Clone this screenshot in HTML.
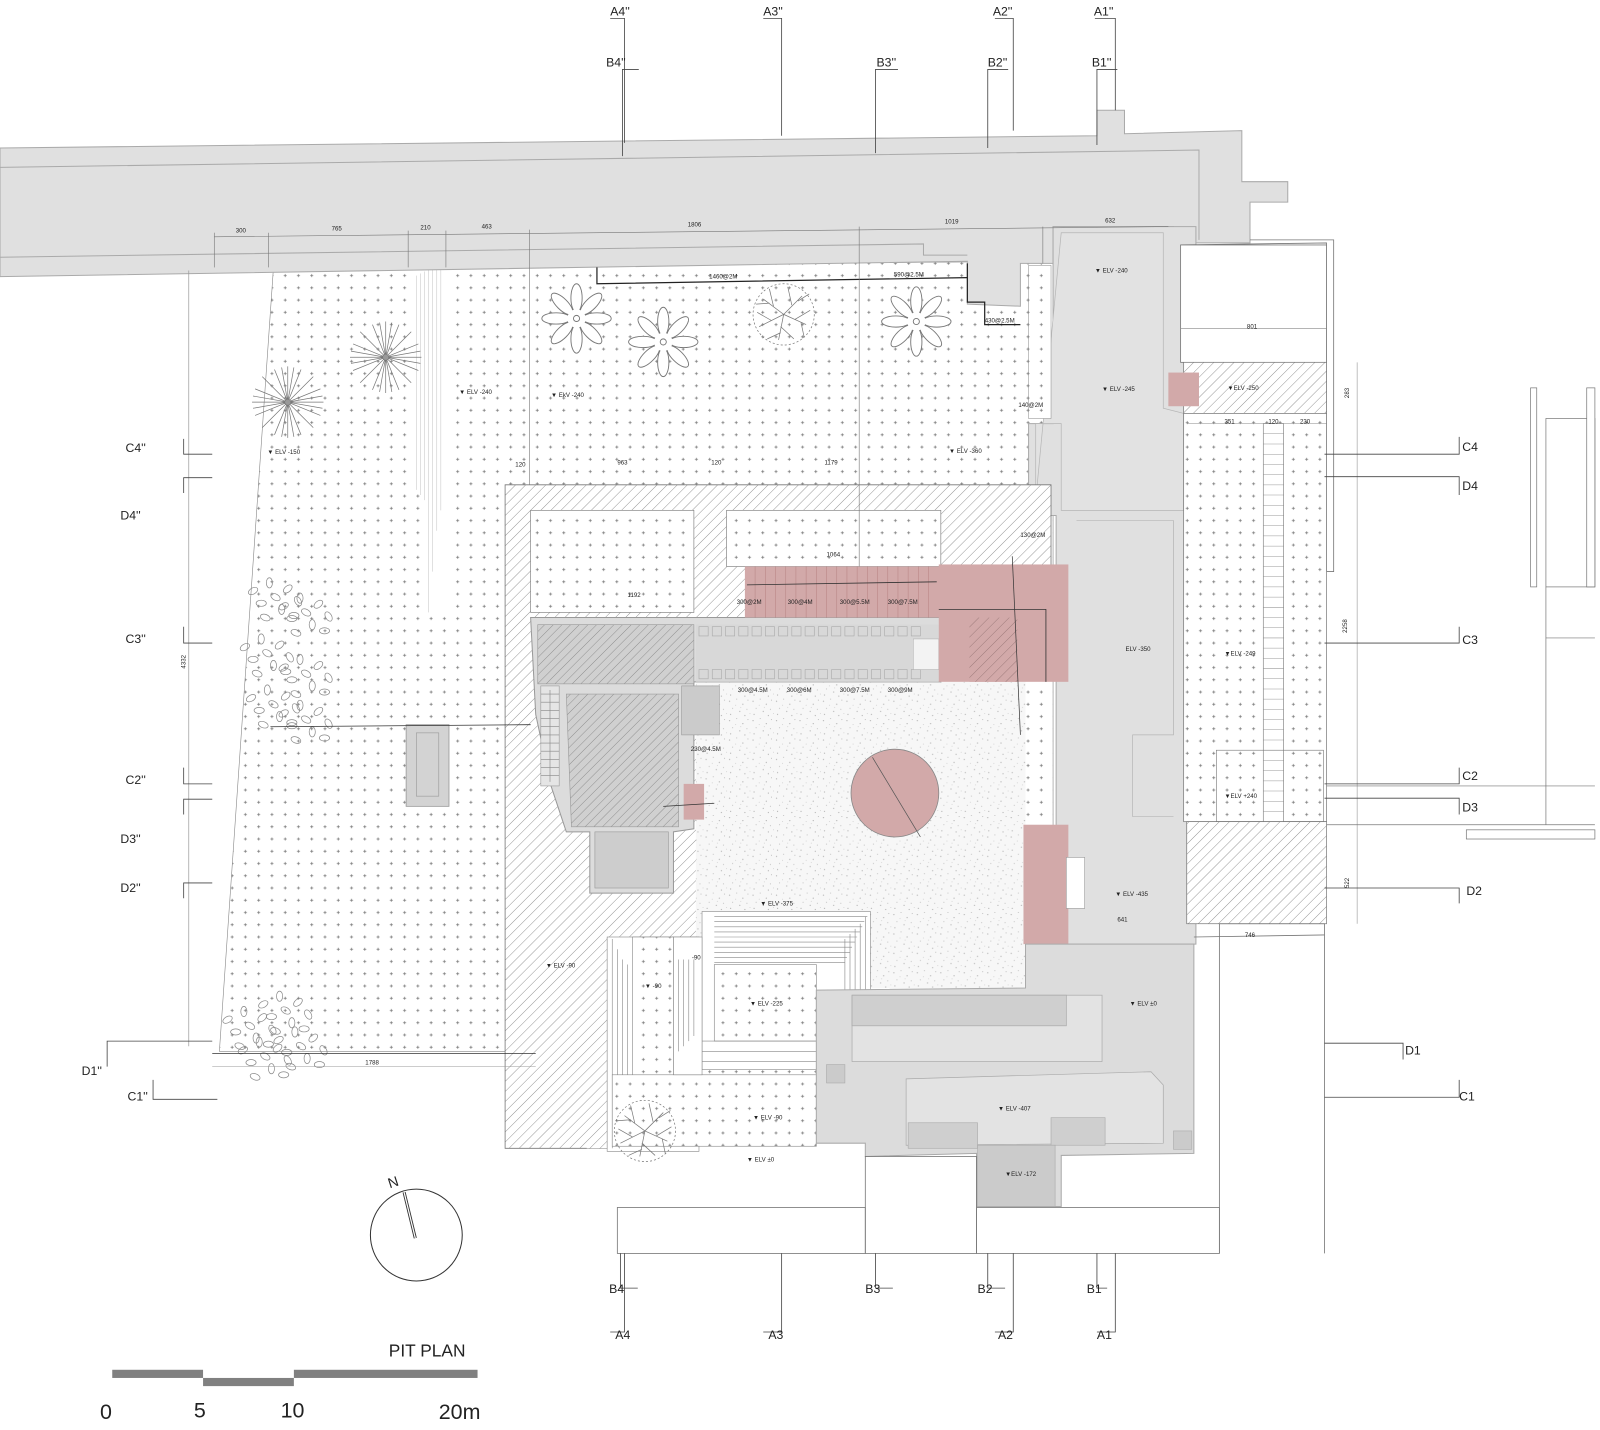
<!DOCTYPE html>
<html><head><meta charset="utf-8"><style>
html,body{margin:0;padding:0;background:#fff;}
svg{display:block;}
text{font-family:"Liberation Sans",sans-serif;fill:#222;}
.s{font-size:6px;}
.ax{font-size:12px;}
</style></head><body>
<svg width="1600" height="1430" viewBox="0 0 1568 1401" preserveAspectRatio="none" xmlns="http://www.w3.org/2000/svg">
<defs>
<pattern id="dot" width="13" height="12" patternUnits="userSpaceOnUse">
<rect width="13" height="12" fill="#fff"/>
<path d="M5 6h3M6.5 4.5v3" stroke="#7a7a7a" stroke-width="0.8"/>
</pattern>
<pattern id="hat" width="7" height="7" patternUnits="userSpaceOnUse" patternTransform="rotate(45)">
<rect width="7" height="7" fill="#fff"/>
<line x1="0" y1="0" x2="0" y2="7" stroke="#6d6d6d" stroke-width="0.7"/>
</pattern>
<pattern id="hatg" width="6" height="6" patternUnits="userSpaceOnUse" patternTransform="rotate(45)">
<rect width="6" height="6" fill="#d0d0d0"/>
<line x1="0" y1="0" x2="0" y2="6" stroke="#777" stroke-width="0.7"/>
</pattern>
<pattern id="hatp" width="7" height="7" patternUnits="userSpaceOnUse" patternTransform="rotate(45)">
<rect width="7" height="7" fill="#d2a9a9"/>
<line x1="0" y1="0" x2="0" y2="7" stroke="#8a6a6a" stroke-width="0.7"/>
</pattern>
<pattern id="spk" width="23" height="19" patternUnits="userSpaceOnUse">
<rect width="23" height="19" fill="#f7f7f7"/>
<g fill="#b5b5b5"><circle cx="2" cy="3" r=".6"/><circle cx="9" cy="1" r=".5"/><circle cx="15" cy="6" r=".6"/><circle cx="20" cy="2" r=".5"/><circle cx="5" cy="10" r=".5"/><circle cx="12" cy="13" r=".6"/><circle cx="19" cy="11" r=".5"/><circle cx="3" cy="16" r=".6"/><circle cx="8" cy="7" r=".4"/><circle cx="17" cy="17" r=".6"/><circle cx="22" cy="15" r=".4"/><circle cx="13" cy="9" r=".4"/></g>
</pattern>
<g id="flower" fill="#fff" stroke="#777" stroke-width="0.9">
<ellipse cx="0" cy="-20" rx="5.5" ry="14"/><ellipse cx="0" cy="-20" rx="5.5" ry="14" transform="rotate(45)"/><ellipse cx="0" cy="-20" rx="5.5" ry="14" transform="rotate(90)"/><ellipse cx="0" cy="-20" rx="5.5" ry="14" transform="rotate(135)"/><ellipse cx="0" cy="-20" rx="5.5" ry="14" transform="rotate(180)"/><ellipse cx="0" cy="-20" rx="5.5" ry="14" transform="rotate(225)"/><ellipse cx="0" cy="-20" rx="5.5" ry="14" transform="rotate(270)"/><ellipse cx="0" cy="-20" rx="5.5" ry="14" transform="rotate(315)"/>
<circle r="9" stroke="none"/><circle r="3"/>
</g>
<g id="star" stroke="#777" stroke-width="0.7">
<path d="M-35 0H35M0-35V35M-25-25L25 25M-25 25L25-25M-32-13L32 13M-32 13L32-13M-13-32L13 32M13-32L-13 32M-34-6L34 6M-34 6L34-6M-6-34L6 34M6-34L-6 34"/>
<circle r="3" fill="#999"/>
</g>
<g id="tree" fill="none" stroke="#777" stroke-width="0.7">
<circle r="30" stroke-dasharray="2 2"/>
<path d="M0 0L-20-15M0 0L18-18M0 0L22 10M0 0L-5 25M0 0L-24 12M-10-8L-14-25M8-9L4-27M11 5L26-4M-3 12L10 24M-12 6L-26 -2M-14-11L-27-10M14-13L25-20M17 8L20 22M-3 18L-16 24"/>
</g>
<g id="leaves" fill="none" stroke="#888" stroke-width="0.7">
<ellipse cx="0" cy="0" rx="5" ry="3" transform="rotate(30)"/><ellipse cx="12" cy="-8" rx="5" ry="3" transform="rotate(-40 12 -8)"/><ellipse cx="-14" cy="6" rx="5" ry="3"/><ellipse cx="6" cy="12" rx="3" ry="5"/><ellipse cx="22" cy="4" rx="5" ry="3" transform="rotate(60 22 4)"/><ellipse cx="-6" cy="-14" rx="3" ry="5"/><ellipse cx="-22" cy="-6" rx="5" ry="3" transform="rotate(-30 -22 -6)"/><ellipse cx="18" cy="18" rx="5" ry="3"/><ellipse cx="-10" cy="20" rx="5" ry="3" transform="rotate(20 -10 20)"/>
</g>
</defs>

<!-- dotted landscape -->
<polygon points="268,262 1032,256 1032,970 800,970 800,1120 600,1120 600,1030 215,1030" fill="url(#dot)" stroke="#888" stroke-width="0.6"/>
<!-- white stair strip -->
<polygon points="405,262 440,262 440,600 419,600 419,480 405,480" fill="#fff"/>
<path d="M408 270V480M412 268V485M416 266V490M420 264V600M424 264V560M428 264V520M432 264V500" stroke="#ccc" stroke-width="0.6"/>

<!-- top band -->
<polygon points="0,145 1075,133 1075,108 1102,108 1102,131 1217,128 1217,178 1262,178 1262,198 1225,198 1225,238 1150,238 1150,222 1032,222 1032,258 1000,258 1000,300 948,298 948,256 0,271" fill="#e0e0e0" stroke="#aaa" stroke-width="1"/>
<polyline points="0,164 1175,147 1175,235" fill="none" stroke="#aaa" stroke-width="1"/>
<polyline points="0,252 905,239 905,250 948,250" fill="none" stroke="#aaa" stroke-width="1"/>
<polyline points="585,262 585,278 948,272" fill="none" stroke="#222" stroke-width="1.2"/>
<polyline points="948,258 948,296 965,296 965,318 1000,318" fill="none" stroke="#222" stroke-width="1.2"/>

<!-- column -->
<polygon points="1032,222 1150,222 1172,222 1172,925 1035,925 1035,505 1008,505 1008,415 1032,415" fill="#e0e0e0" stroke="#aaa" stroke-width="1"/>
<polygon points="1040,228 1140,228 1140,400 1160,405 1160,500 1040,500 1040,415 1015,415 1015,490" fill="#e2e2e2" stroke="#b5b5b5" stroke-width="0.7"/>
<polyline points="1055,510 1150,510 1150,720 1110,720 1110,800 1150,800" fill="none" stroke="#b5b5b5" stroke-width="0.7"/>
<rect x="1008" y="260" width="22" height="150" fill="url(#dot)" stroke="#888" stroke-width="0.5"/>

<!-- right area -->
<polyline points="1157,240 1300,238 1300,560 1307,560 1307,235 1225,235" fill="none" stroke="#777" stroke-width="0.8"/>
<rect x="1157" y="240" width="143" height="115" fill="#fff" stroke="#777" stroke-width="0.8"/>
<line x1="1157" y1="322" x2="1300" y2="322" stroke="#888" stroke-width="0.6"/>
<rect x="1160" y="355" width="140" height="50" fill="url(#hat)" stroke="#777" stroke-width="0.7"/>
<rect x="1160" y="405" width="140" height="400" fill="url(#dot)" stroke="#777" stroke-width="0.7"/>
<rect x="1238" y="415" width="20" height="390" fill="#fff" stroke="#777" stroke-width="0.6"/>
<path d="M1238 425h20M1238 435h20M1238 445h20M1238 455h20M1238 465h20M1238 475h20M1238 485h20M1238 495h20M1238 505h20M1238 515h20M1238 525h20M1238 535h20M1238 545h20M1238 555h20M1238 565h20M1238 575h20M1238 585h20M1238 595h20M1238 605h20M1238 615h20M1238 625h20M1238 635h20M1238 645h20M1238 655h20M1238 665h20M1238 675h20M1238 685h20M1238 695h20M1238 705h20M1238 715h20M1238 725h20M1238 735h20M1238 745h20M1238 755h20M1238 765h20M1238 775h20M1238 785h20M1238 795h20" stroke="#999" stroke-width="0.5"/>
<line x1="1163" y1="415" x2="1300" y2="415" stroke="#888" stroke-width="0.5"/>
<rect x="1192" y="735" width="105" height="70" fill="none" stroke="#777" stroke-width="0.6"/>
<rect x="1163" y="805" width="137" height="100" fill="url(#hat)" stroke="#777" stroke-width="0.7"/>
<rect x="1145" y="365" width="30" height="33" fill="#d2a9a9"/>
<line x1="1330" y1="355" x2="1330" y2="905" stroke="#999" stroke-width="0.6"/>
<text class="s" x="1320" y="620" transform="rotate(-90 1320 620)">2258</text>
<text class="s" x="1322" y="390" transform="rotate(-90 1322 390)">283</text>
<text class="s" x="1322" y="870" transform="rotate(-90 1322 870)">522</text>
<text class="s" x="1222" y="322">801</text>
<text class="s" x="1200" y="415">351</text><text class="s" x="1243" y="415">120</text><text class="s" x="1274" y="415">230</text>
<text class="s" x="1203" y="382">▼ELV -250</text>
<text class="s" x="1200" y="642">▼ELV -249</text>
<text class="s" x="1200" y="782">▼ELV +240</text>

<!-- far right -->
<rect x="1500" y="380" width="6" height="195" fill="#fff" stroke="#777" stroke-width="0.7"/>
<rect x="1515" y="410" width="48" height="165" fill="#fff" stroke="#777" stroke-width="0.7"/>
<rect x="1555" y="380" width="8" height="195" fill="#fff" stroke="#777" stroke-width="0.7"/>
<polyline points="1515,575 1515,808" fill="none" stroke="#777" stroke-width="0.7"/>
<line x1="1515" y1="625" x2="1563" y2="625" stroke="#777" stroke-width="0.6"/>
<line x1="1300" y1="808" x2="1563" y2="808" stroke="#777" stroke-width="0.7"/>
<line x1="1300" y1="770" x2="1563" y2="770" stroke="#777" stroke-width="0.6"/>
<rect x="1437" y="813" width="126" height="9" fill="#fff" stroke="#777" stroke-width="0.7"/>

<!-- hatch L -->
<polygon points="495,475 1030,475 1030,605 690,605 690,920 595,920 595,1125 495,1125" fill="url(#hat)" stroke="#777" stroke-width="0.8"/>
<rect x="520" y="500" width="160" height="100" fill="url(#dot)" stroke="#888" stroke-width="0.7"/>
<rect x="712" y="500" width="210" height="55" fill="url(#dot)" stroke="#888" stroke-width="0.7"/>
<rect x="575" y="920" width="20" height="205" fill="url(#hat)"/>

<!-- plaza -->
<rect x="682" y="668" width="323" height="300" fill="url(#spk)"/>
<!-- terraces -->
<rect x="688" y="893" width="165" height="155" fill="#fff" stroke="#888" stroke-width="0.6"/>
<path d="M700 898H850M700 903H847M700 908H845M700 913H843M700 918H840M700 923H838M700 928H835M700 933H833M700 938H830M700 943H828" stroke="#888" stroke-width="0.6" fill="none"/>
<path d="M848 898V1045M843 905V1040M838 910V1035M833 915V1030M828 920V1025" stroke="#888" stroke-width="0.6"/>
<rect x="700" y="945" width="100" height="75" fill="url(#dot)" stroke="#888" stroke-width="0.6"/>
<path d="M680 1020H848M680 1030H848M680 1040H848M660 1005V1040M665 1005V1045M670 1005V1040M675 1005V1035" stroke="#888" stroke-width="0.6"/>
<rect x="595" y="918" width="90" height="210" fill="#fff" stroke="#888" stroke-width="0.6"/>
<path d="M600 920V1125M605 930V1118M610 940V1112M615 945V1108" stroke="#888" stroke-width="0.6"/>
<rect x="620" y="918" width="40" height="135" fill="url(#dot)" stroke="#888" stroke-width="0.6"/>
<rect x="600" y="1053" width="200" height="70" fill="url(#dot)" stroke="#888" stroke-width="0.6"/>
<rect x="660" y="918" width="28" height="135" fill="#fff" stroke="#888" stroke-width="0.6"/>
<path d="M665 940V1030M670 940V1025M675 940V1020M680 940V1015" stroke="#888" stroke-width="0.6"/>

<!-- left building -->
<polygon points="520,605 922,605 922,668 680,668 680,812 660,815 660,875 578,875 578,815 555,815 540,770 525,700" fill="#dcdcdc" stroke="#999" stroke-width="1"/>
<rect x="527" y="612" width="153" height="58" fill="url(#hatg)" stroke="#999" stroke-width="0.6"/>
<polygon points="555,680 665,680 665,810 560,810" fill="url(#hatg)" stroke="#999" stroke-width="0.6"/>
<rect x="530" y="672" width="18" height="98" fill="#e5e5e5" stroke="#999" stroke-width="0.6"/>
<path d="M530 680h18M530 688h18M530 696h18M530 704h18M530 712h18M530 720h18M530 728h18M530 736h18M530 744h18M530 752h18M530 760h18M539 676V766" stroke="#888" stroke-width="0.6"/>
<rect x="583" y="815" width="72" height="55" fill="#cdcdcd" stroke="#999" stroke-width="0.6"/>
<rect x="668" y="672" width="37" height="48" fill="#cbcbcb" stroke="#999" stroke-width="0.6"/>
<rect x="682" y="612" width="238" height="56" fill="#d8d8d8"/>
<g fill="none" stroke="#aaa" stroke-width="0.6">
<path d="M685 614h9v9h-9zM698 614h9v9h-9zM711 614h9v9h-9zM724 614h9v9h-9zM737 614h9v9h-9zM750 614h9v9h-9zM763 614h9v9h-9zM776 614h9v9h-9zM789 614h9v9h-9zM802 614h9v9h-9zM815 614h9v9h-9zM828 614h9v9h-9zM841 614h9v9h-9zM854 614h9v9h-9zM867 614h9v9h-9zM880 614h9v9h-9zM893 614h9v9h-9z"/>
<path d="M685 656h9v9h-9zM698 656h9v9h-9zM711 656h9v9h-9zM724 656h9v9h-9zM737 656h9v9h-9zM750 656h9v9h-9zM763 656h9v9h-9zM776 656h9v9h-9zM789 656h9v9h-9zM802 656h9v9h-9zM815 656h9v9h-9zM828 656h9v9h-9zM841 656h9v9h-9zM854 656h9v9h-9zM867 656h9v9h-9zM880 656h9v9h-9zM893 656h9v9h-9z"/>
</g>
<rect x="895" y="626" width="25" height="30" fill="#f3f3f3" stroke="#aaa" stroke-width="0.5"/>

<!-- pink -->
<rect x="730" y="555" width="192" height="50" fill="#d2a9a9"/>
<path d="M740 555V605M750 555V605M760 555V605M770 555V605M780 555V605M790 555V605M800 555V605M810 555V605M820 555V605M830 555V605M840 555V605M850 555V605M860 555V605M870 555V605M880 555V605M890 555V605M900 555V605M910 555V605" stroke="#b88" stroke-width="0.6"/>
<line x1="732" y1="573" x2="918" y2="570" stroke="#333" stroke-width="0.8"/>
<rect x="920" y="553" width="127" height="115" fill="#d2a9a9"/>
<rect x="950" y="605" width="47" height="63" fill="url(#hatp)"/>
<polyline points="920,597 1025,597 1025,668" fill="none" stroke="#333" stroke-width="0.8"/>
<line x1="992" y1="545" x2="1000" y2="720" stroke="#333" stroke-width="0.7"/>
<circle cx="877" cy="777" r="43" fill="#d2a9a9" stroke="#888" stroke-width="0.8"/>
<line x1="855" y1="742" x2="902" y2="820" stroke="#555" stroke-width="0.7"/>
<rect x="1003" y="808" width="44" height="117" fill="#d2a9a9"/>
<rect x="670" y="768" width="20" height="35" fill="#d2a9a9"/>
<line x1="650" y1="790" x2="700" y2="787" stroke="#333" stroke-width="0.7"/>
<rect x="1045" y="840" width="18" height="50" fill="#fff" stroke="#999" stroke-width="0.6"/>

<!-- bottom building -->
<polygon points="800,970 1005,968 1005,925 1170,925 1170,1130 1040,1132 1040,1182 957,1182 957,1130 848,1133 848,1120 800,1120" fill="#dcdcdc" stroke="#aaa" stroke-width="1"/>
<rect x="835" y="975" width="245" height="65" fill="#e3e3e3" stroke="#aaa" stroke-width="0.7"/>
<rect x="835" y="975" width="210" height="30" fill="#cfcfcf" stroke="#aaa" stroke-width="0.7"/>
<polygon points="888,1057 1128,1050 1140,1063 1140,1120 888,1122" fill="#e3e3e3" stroke="#aaa" stroke-width="0.7"/>
<rect x="890" y="1100" width="68" height="25" fill="#cfcfcf" stroke="#aaa" stroke-width="0.6"/>
<rect x="1030" y="1095" width="53" height="27" fill="#cfcfcf" stroke="#aaa" stroke-width="0.6"/>
<rect x="958" y="1122" width="76" height="60" fill="#cbcbcb" stroke="#aaa" stroke-width="0.6"/>
<rect x="810" y="1043" width="18" height="18" fill="#cbcbcb" stroke="#aaa" stroke-width="0.6"/>
<rect x="1150" y="1108" width="18" height="18" fill="#cbcbcb" stroke="#aaa" stroke-width="0.6"/>
<text class="s" x="1107" y="985">▼ ELV ±0</text>
<text class="s" x="978" y="1088">▼ ELV -407</text>
<text class="s" x="985" y="1152">▼ELV -172</text>

<!-- bottom outlines -->
<g fill="none" stroke="#777" stroke-width="0.8">
<rect x="605" y="1183" width="243" height="45"/>
<rect x="848" y="1133" width="109" height="95"/>
<rect x="957" y="1183" width="238" height="45"/>
<polyline points="1195,1228 1195,905 1298,905 1298,1228"/>
<line x1="1170" y1="918" x2="1298" y2="916"/>
</g>

<!-- plants -->
<use href="#star" x="282" y="394"/>
<use href="#star" x="378" y="350"/>
<use href="#flower" x="565" y="312"/>
<use href="#flower" x="650" y="335"/>
<use href="#flower" x="898" y="315"/>
<use href="#tree" x="768" y="308"/>
<use href="#tree" x="632" y="1108"/>
<use href="#leaves" x="270" y="585"/><use href="#leaves" x="300" y="600"/><use href="#leaves" x="262" y="640"/><use href="#leaves" x="300" y="660"/><use href="#leaves" x="268" y="690"/><use href="#leaves" x="300" y="705"/>
<use href="#leaves" x="245" y="1005"/><use href="#leaves" x="280" y="990"/><use href="#leaves" x="260" y="1035"/><use href="#leaves" x="295" y="1025"/>

<!-- left box -->
<rect x="398" y="710" width="42" height="80" fill="#d3d3d3" stroke="#999" stroke-width="0.8"/>
<rect x="408" y="718" width="22" height="62" fill="none" stroke="#999" stroke-width="0.6"/>
<line x1="265" y1="712" x2="520" y2="710" stroke="#333" stroke-width="0.8"/>
<line x1="208" y1="1032" x2="525" y2="1032" stroke="#333" stroke-width="0.8"/>
<line x1="185" y1="265" x2="185" y2="1025" stroke="#999" stroke-width="0.7"/>
<text class="s" x="182" y="655" transform="rotate(-90 182 655)">4332</text>
<line x1="208" y1="1045" x2="525" y2="1045" stroke="#999" stroke-width="0.6"/>
<text class="s" x="358" y="1043">1788</text>

<!-- dimensions top -->
<line x1="210" y1="232" x2="1145" y2="222" stroke="#777" stroke-width="0.6"/>
<g stroke="#777" stroke-width="0.6"><line x1="210" y1="228" x2="210" y2="262"/><line x1="263" y1="228" x2="263" y2="262"/><line x1="400" y1="226" x2="400" y2="262"/><line x1="437" y1="226" x2="437" y2="262"/><line x1="519" y1="225" x2="519" y2="475"/><line x1="842" y1="222" x2="842" y2="555"/><line x1="1022" y1="222" x2="1022" y2="258"/></g>
<g class="s"><text x="231" y="228">300</text><text x="325" y="226">765</text><text x="412" y="225">210</text><text x="472" y="224">463</text><text x="674" y="222">1806</text><text x="926" y="219">1019</text><text x="1083" y="218">632</text></g>
<g class="s">
<text x="695" y="273">1460@2M</text><text x="876" y="271">590@2.5M</text><text x="965" y="316">430@2.5M</text><text x="998" y="399">140@2M</text><text x="1000" y="526">130@2M</text>
<text x="722" y="592">300@2M</text><text x="772" y="592">300@4M</text><text x="823" y="592">300@5.5M</text><text x="870" y="592">300@7.5M</text>
<text x="723" y="678">300@4.5M</text><text x="771" y="678">300@6M</text><text x="823" y="678">300@7.5M</text><text x="870" y="678">300@9M</text>
<text x="677" y="736">230@4.5M</text>
<text x="505" y="457">120</text><text x="605" y="455">963</text><text x="697" y="455">120</text><text x="808" y="455">1179</text>
<text x="810" y="545">1064</text><text x="615" y="585">1192</text>
<text x="540" y="389">▼ EkV -240</text><text x="450" y="386">▼ ELV -240</text><text x="262" y="445">▼ ELV -150</text>
<text x="930" y="444">▼ ELV -360</text><text x="1073" y="267">▼ ELV -240</text><text x="1080" y="383">▼ ELV -245</text>
<text x="1103" y="638">ELV -350</text><text x="1093" y="878">▼ ELV -435</text><text x="1095" y="903">641</text><text x="1220" y="918">746</text>
<text x="745" y="887">▼ ELV -375</text><text x="535" y="948">▼ ELV -90</text><text x="632" y="968">▼ -90</text><text x="678" y="940">-90</text>
<text x="735" y="985">▼ ELV -225</text><text x="738" y="1097">▼ ELV -90</text><text x="732" y="1138">▼ ELV ±0</text>
</g>

<!-- axis markers -->
<g stroke="#444" stroke-width="0.8" fill="none">
<path d="M598 18H612V140M748 18H766V133M975 18H993V128M1073 18H1093V108"/>
<path d="M626 68H610V153M880 68H858V150M988 68H968V145M1095 68H1075V142"/>
<path d="M608 1228V1262H625M612 1228V1305H598M766 1228V1305H748M858 1228V1262H875M968 1228V1262H985M993 1228V1305H975M1075 1228V1262H1085M1093 1228V1305H1075"/>
<path d="M1298 445H1430V428M1298 467H1430V485M1298 630H1430V614M1298 768H1430V752M1298 782H1430V798M1298 870H1430V885M1298 1022H1375V1038M1298 1075H1430V1058"/>
<path d="M208 445H180V430M208 468H180V483M208 630H180V614M208 768H180V752M208 783H180V798M208 865H180V880M208 1020H105V1045M213 1077H150V1058"/>
</g>
<g class="ax">
<text x="598" y="15">A4''</text><text x="748" y="15">A3''</text><text x="973" y="15">A2''</text><text x="1072" y="15">A1''</text>
<text x="594" y="65">B4''</text><text x="859" y="65">B3''</text><text x="968" y="65">B2''</text><text x="1070" y="65">B1''</text>
<text x="597" y="1267">B4</text><text x="848" y="1267">B3</text><text x="958" y="1267">B2</text><text x="1065" y="1267">B1</text>
<text x="603" y="1312">A4</text><text x="753" y="1312">A3</text><text x="978" y="1312">A2</text><text x="1075" y="1312">A1</text>
<text x="1433" y="442">C4</text><text x="1433" y="480">D4</text><text x="1433" y="631">C3</text><text x="1433" y="764">C2</text><text x="1433" y="795">D3</text><text x="1437" y="877">D2</text><text x="1377" y="1033">D1</text><text x="1430" y="1078">C1</text>
<text x="123" y="443">C4''</text><text x="118" y="509">D4''</text><text x="123" y="630">C3''</text><text x="123" y="768">C2''</text><text x="118" y="826">D3''</text><text x="118" y="874">D2''</text><text x="80" y="1053">D1''</text><text x="125" y="1078">C1''</text>
</g>

<!-- north arrow -->
<circle cx="408" cy="1210" r="45" fill="none" stroke="#333" stroke-width="1"/>
<line x1="396" y1="1168" x2="407" y2="1213" stroke="#333" stroke-width="3"/>
<line x1="396" y1="1168" x2="407" y2="1213" stroke="#fff" stroke-width="1.2"/>
<text x="380" y="1162" font-size="14" transform="rotate(-18 388 1157)">N</text>

<!-- scale bar -->
<rect x="110" y="1342" width="89" height="8" fill="#808080"/>
<rect x="199" y="1350" width="89" height="8" fill="#808080"/>
<rect x="288" y="1342" width="180" height="8" fill="#808080"/>
<text x="381" y="1329" font-size="17">PIT PLAN</text>
<text x="98" y="1390" font-size="21">0</text><text x="190" y="1389" font-size="21">5</text><text x="275" y="1389" font-size="21">10</text><text x="430" y="1390" font-size="21">20m</text>
</svg>
</body></html>
